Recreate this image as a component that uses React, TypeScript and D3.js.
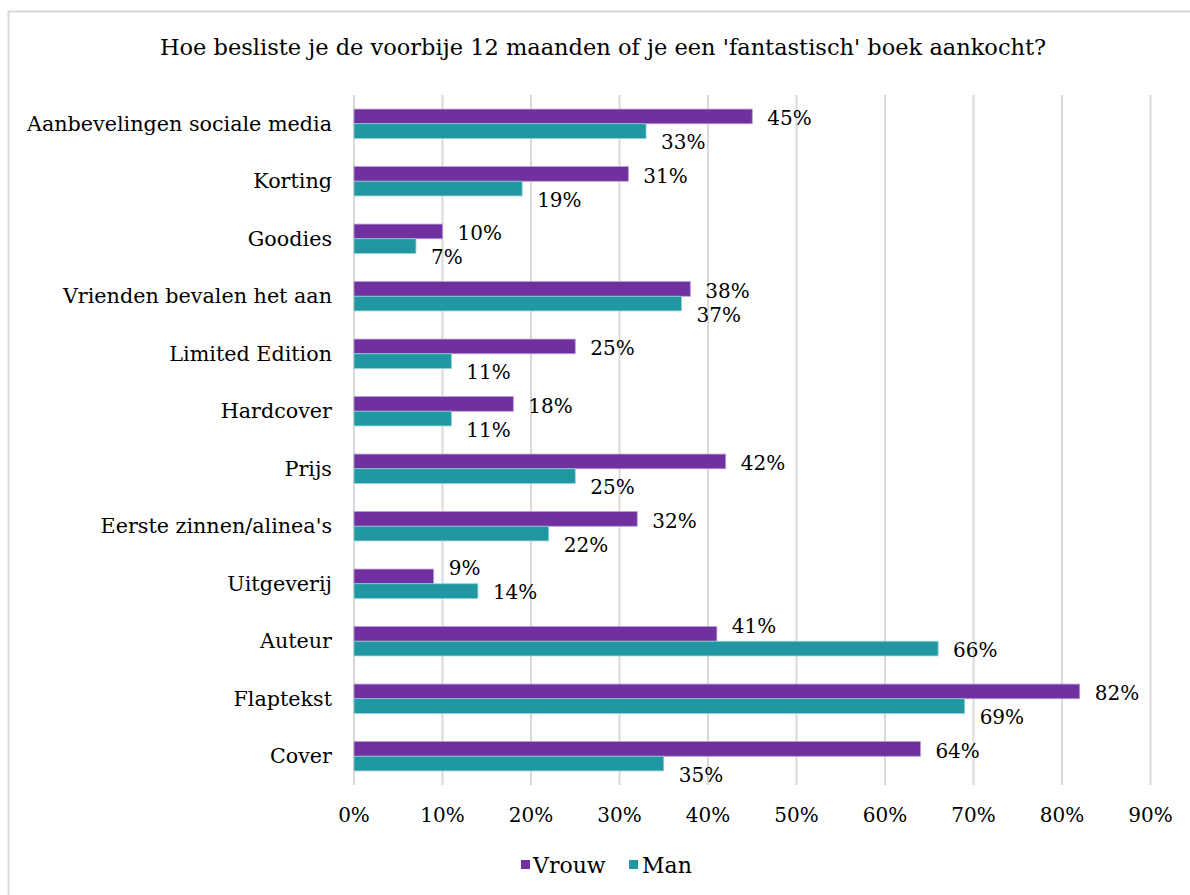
import React from "react";
import * as d3 from "d3";

const categories = [
  "Aanbevelingen sociale media",
  "Korting",
  "Goodies",
  "Vrienden bevalen het aan",
  "Limited Edition",
  "Hardcover",
  "Prijs",
  "Eerste zinnen/alinea's",
  "Uitgeverij",
  "Auteur",
  "Flaptekst",
  "Cover",
];
const vrouw = [45, 31, 10, 38, 25, 18, 42, 32, 9, 41, 82, 64];
const man = [33, 19, 7, 37, 11, 11, 25, 22, 14, 66, 69, 35];
const xTicks = [0, 10, 20, 30, 40, 50, 60, 70, 80, 90];
const seriesNames = ["Vrouw", "Man"];
const title = "Hoe besliste je de voorbije 12 maanden of je een 'fantastisch' boek aankocht?";

const PURPLE = "#7030A0";
const TEAL = "#2097A1";
const FONT = "'DejaVu Serif', Georgia, serif";

export default function App() {
  const W = 1190;
  const H = 895;
  const x = d3.scaleLinear().domain([0, 90]).range([354, 1150.5]);
  const y = d3
    .scaleBand<string>()
    .domain(categories)
    .range([95, 785])
    .paddingInner(0.49)
    .paddingOuter(0.245);
  const bw = y.bandwidth() / 2;

  return (
    <svg
      width={W}
      height={H}
      style={{ position: "absolute", left: 0, top: 0, background: "#fff" }}
      fontFamily={FONT}
    >
      <rect x={8.5} y={11.5} width={W + 10} height={H} fill="#fff" stroke="#d9d9d9" strokeWidth={2} />
      <text x={603} y={47} textAnchor="middle" dominantBaseline="central" fontSize={22.5} fill="#000">
        {title}
      </text>
      {xTicks.map((t) => (
        <line key={t} x1={x(t)} x2={x(t)} y1={95} y2={785} stroke="#d9d9d9" strokeWidth={2} />
      ))}
      {categories.map((c, i) => {
        const y0 = y(c)!;
        const v = vrouw[i];
        const m = man[i];
        const manBigger = m > v;
        const vdy = manBigger ? -8 : 2;
        const mdy = manBigger ? 1 : 11;
        return (
          <g key={c}>
            <rect x={x(0)} y={y0} width={x(v) - x(0)} height={bw} fill={PURPLE} stroke="#b79ad0" strokeWidth={0.8} />
            <rect x={x(0)} y={y0 + bw} width={x(m) - x(0)} height={bw} fill={TEAL} stroke="#8fd0d4" strokeWidth={0.8} />
            <text x={332} y={y0 + bw} textAnchor="end" dominantBaseline="central" fontSize={20.7} fill="#000">
              {c}
            </text>
            <text x={x(v) + 15} y={y0 + bw / 2 + vdy} dominantBaseline="central" fontSize={20} fill="#000">
              {v}%
            </text>
            <text x={x(m) + 15} y={y0 + bw * 1.5 + mdy} dominantBaseline="central" fontSize={20} fill="#000">
              {m}%
            </text>
          </g>
        );
      })}
      {xTicks.map((t) => (
        <text key={t} x={x(t)} y={815} textAnchor="middle" dominantBaseline="central" fontSize={20} fill="#000">
          {t}%
        </text>
      ))}
      <g>
        <rect x={521} y={860} width={9} height={9} fill={PURPLE} />
        <text x={533} y={865} dominantBaseline="central" fontSize={22} fill="#000">
          {seriesNames[0]}
        </text>
        <rect x={629} y={860} width={9} height={9} fill={TEAL} />
        <text x={642} y={865} dominantBaseline="central" fontSize={22} fill="#000">
          {seriesNames[1]}
        </text>
      </g>
    </svg>
  );
}
